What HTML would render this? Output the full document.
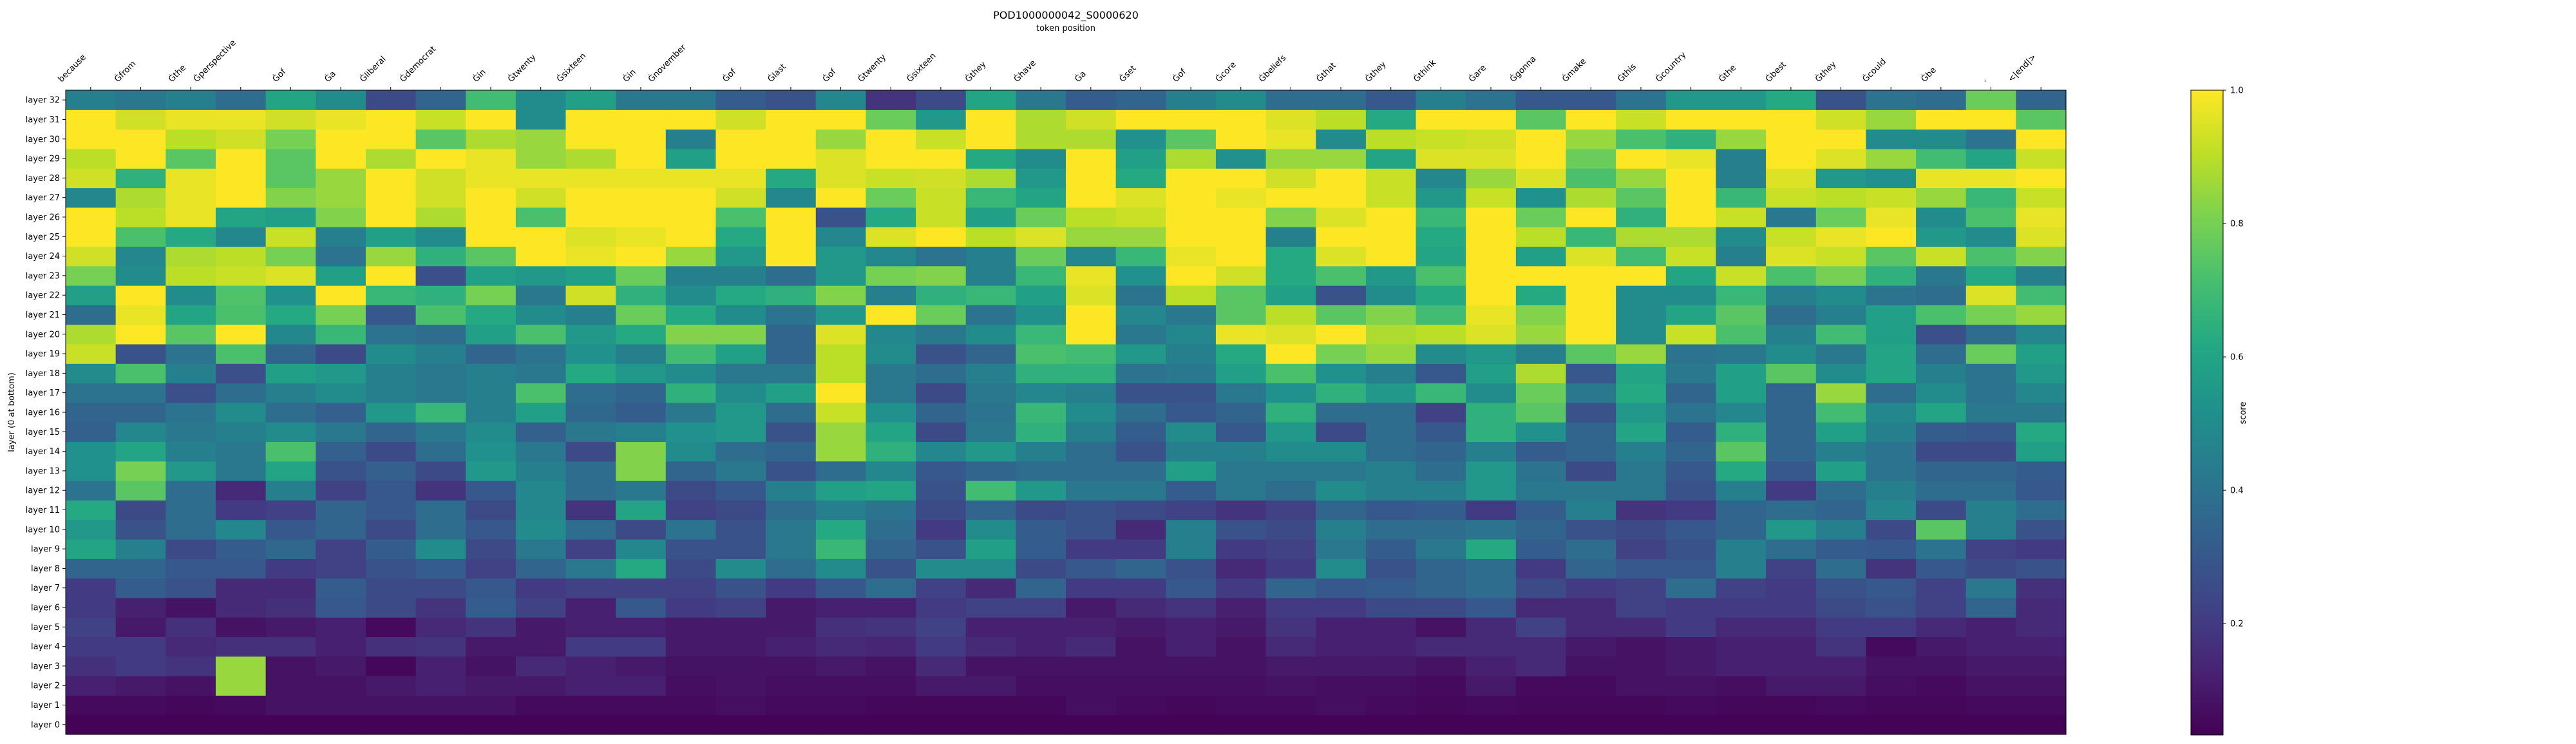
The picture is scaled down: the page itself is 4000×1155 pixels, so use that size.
<!DOCTYPE html>
<html><head><meta charset="utf-8"><title>POD1000000042_S0000620</title>
<style>html,body{margin:0;padding:0;background:#fff}svg{display:block}text{font-family:"DejaVu Sans","Liberation Sans",sans-serif}</style>
</head><body>
<svg id="chart" xmlns="http://www.w3.org/2000/svg" width="4000" height="1155" viewBox="0 0 4000 1155">
<rect width="4000" height="1155" fill="#fff"/>
<text x="1655" y="29" font-size="16" text-anchor="middle" fill="#000">POD1000000042_S0000620</text>
<text x="1655" y="48" font-size="13" text-anchor="middle" fill="#000">token position</text>
<text transform="translate(22,640) rotate(-90)" font-size="13" text-anchor="middle" fill="#000">layer (0 at bottom)</text>
<g id="cells"></g>
<g id="xticks"></g>
<g id="yticks"></g>
<rect x="102" y="140" width="3106" height="1000" fill="none" stroke="#000" stroke-width="1"/>
<defs><linearGradient id="vg" x1="0" y1="1" x2="0" y2="0"></linearGradient></defs>
<rect id="cbar" x="3402" y="140" width="50" height="1001" fill="url(#vg)" stroke="#000" stroke-width="1"/>
<g id="cticks"></g>
<text transform="translate(3487,641) rotate(-90)" font-size="13" text-anchor="middle" fill="#000">score</text>
</svg>
<script>
const tokens = ["because","Ġfrom","Ġthe","Ġperspective","Ġof","Ġa","Ġliberal","Ġdemocrat","Ġin","Ġtwenty","Ġsixteen","Ġin","Ġnovember","Ġof","Ġlast","Ġof","Ġtwenty","Ġsixteen","Ġthey","Ġhave","Ġa","Ġset","Ġof","Ġcore","Ġbeliefs","Ġthat","Ġthey","Ġthink","Ġare","Ġgonna","Ġmake","Ġthis","Ġcountry","Ġthe","Ġbest","Ġthey","Ġcould","Ġbe",".","<|end|>"];
const cbarTicks = [0.2,0.4,0.6,0.8,1.0];
const L32=[0.45,0.42,0.45,0.38,0.6,0.5,0.25,0.35,0.7,0.5,0.58,0.42,0.42, 0.32,0.28,0.48,0.18,0.25,0.6,0.42,0.32,0.35,0.45,0.5,0.38,0.38, 0.3,0.45,0.4,0.3,0.3,0.4,0.55,0.55,0.62,0.28,0.4,0.38,0.78,0.35];
const L31=[1.0,0.93,0.97,0.97,0.93,0.97,1.0,0.92,1.0,0.5,1.0,1.0,1.0, 0.93,1.0,1.0,0.78,0.55,1.0,0.88,0.93,1.0,1.0,1.0,0.95,0.9, 0.62,1.0,1.0,0.75,1.0,0.92,1.0,1.0,1.0,0.93,0.85,1.0,1.0,0.75];
const L30=[1.0,1.0,0.9,0.93,0.8,1.0,1.0,0.75,0.88,0.85,1.0,1.0,0.45, 1.0,1.0,0.85,1.0,0.92,1.0,0.88,0.88,0.52,0.75,1.0,0.97,0.5, 0.9,0.92,0.93,1.0,0.85,0.72,0.65,0.85,1.0,1.0,0.5,0.5,0.4,1.0];
const L29=[0.9,1.0,0.75,1.0,0.75,1.0,0.88,1.0,0.97,0.85,0.88,1.0,0.58, 1.0,1.0,0.95,1.0,1.0,0.62,0.5,1.0,0.58,0.88,0.52,0.85,0.85, 0.6,0.95,0.95,1.0,0.78,1.0,0.97,0.45,1.0,0.95,0.85,0.7,0.6,0.92];
const L28=[0.93,0.65,0.97,1.0,0.75,0.85,1.0,0.93,0.97,0.97,0.97,0.97,0.97, 0.97,0.62,0.95,0.92,0.93,0.88,0.55,1.0,0.62,1.0,1.0,0.93,1.0, 0.92,0.48,0.85,0.95,0.72,0.85,1.0,0.45,0.95,0.55,0.52,0.97,0.97,1.0];
const L27=[0.48,0.88,0.97,1.0,0.82,0.85,1.0,0.93,1.0,0.93,1.0,1.0,1.0, 0.93,0.48,1.0,0.78,0.92,0.68,0.6,1.0,0.95,1.0,0.97,1.0,1.0, 0.92,0.55,0.92,0.52,0.88,0.75,1.0,0.68,0.92,0.9,0.92,0.85,0.68,0.92];
const L26=[1.0,0.9,0.97,0.6,0.58,0.82,1.0,0.88,1.0,0.72,1.0,1.0,1.0, 0.72,1.0,0.28,0.62,0.92,0.58,0.78,0.9,0.92,1.0,1.0,0.82,0.95, 1.0,0.68,1.0,0.78,1.0,0.65,1.0,0.92,0.42,0.78,0.97,0.5,0.72,0.97];
const L25=[1.0,0.72,0.62,0.48,0.92,0.45,0.58,0.5,1.0,1.0,0.95,0.97,1.0, 0.62,1.0,0.48,0.95,1.0,0.9,0.95,0.85,0.85,1.0,1.0,0.45,1.0, 1.0,0.62,1.0,0.9,0.68,0.88,0.88,0.5,0.92,0.97,1.0,0.55,0.5,0.95];
const L24=[0.93,0.48,0.88,0.9,0.8,0.4,0.85,0.65,0.75,1.0,0.97,1.0,0.85, 0.55,1.0,0.55,0.48,0.4,0.45,0.78,0.48,0.68,0.97,1.0,0.62,0.95, 1.0,0.6,1.0,0.58,0.95,0.7,0.92,0.45,0.95,0.92,0.75,0.92,0.72,0.82];
const L23=[0.8,0.5,0.9,0.92,0.95,0.58,1.0,0.27,0.58,0.55,0.58,0.78,0.45, 0.45,0.38,0.55,0.8,0.82,0.45,0.68,0.97,0.52,1.0,0.93,0.62,0.72, 0.55,0.72,1.0,1.0,1.0,1.0,0.6,0.92,0.72,0.8,0.65,0.42,0.62,0.45];
const L22=[0.58,1.0,0.5,0.73,0.52,1.0,0.68,0.65,0.8,0.42,0.93,0.65,0.5, 0.62,0.65,0.82,0.45,0.65,0.68,0.58,0.95,0.4,0.9,0.75,0.58,0.28, 0.5,0.62,1.0,0.62,1.0,0.5,0.5,0.68,0.45,0.5,0.4,0.38,0.95,0.7];
const L21=[0.38,0.97,0.6,0.72,0.62,0.8,0.3,0.72,0.62,0.5,0.45,0.78,0.62, 0.5,0.4,0.55,1.0,0.78,0.4,0.52,1.0,0.48,0.42,0.75,0.9,0.75, 0.82,0.7,0.97,0.82,1.0,0.5,0.6,0.75,0.38,0.45,0.58,0.72,0.8,0.85];
const L20=[0.88,1.0,0.75,1.0,0.48,0.68,0.4,0.38,0.58,0.72,0.55,0.62,0.82, 0.82,0.35,0.95,0.48,0.42,0.5,0.68,1.0,0.42,0.48,0.97,0.95,1.0, 0.88,0.9,0.95,0.85,1.0,0.5,0.92,0.72,0.45,0.7,0.58,0.27,0.38,0.48];
const L19=[0.92,0.28,0.4,0.72,0.35,0.25,0.5,0.45,0.35,0.4,0.52,0.45,0.7, 0.58,0.35,0.9,0.5,0.28,0.35,0.72,0.7,0.55,0.45,0.62,1.0,0.8, 0.85,0.5,0.55,0.45,0.75,0.85,0.4,0.42,0.5,0.42,0.6,0.38,0.78,0.58];
const L18=[0.5,0.72,0.45,0.27,0.58,0.55,0.45,0.42,0.45,0.42,0.62,0.55,0.5, 0.42,0.42,0.9,0.42,0.38,0.45,0.65,0.65,0.4,0.42,0.58,0.72,0.52, 0.45,0.3,0.58,0.88,0.3,0.6,0.42,0.58,0.75,0.5,0.6,0.45,0.4,0.55];
const L17=[0.4,0.4,0.27,0.38,0.45,0.5,0.45,0.42,0.45,0.72,0.38,0.35,0.65, 0.5,0.58,1.0,0.42,0.25,0.42,0.48,0.45,0.28,0.28,0.42,0.52,0.65, 0.55,0.68,0.5,0.78,0.42,0.62,0.35,0.58,0.35,0.85,0.38,0.5,0.4,0.48];
const L16=[0.35,0.35,0.4,0.5,0.38,0.33,0.55,0.68,0.45,0.58,0.36,0.32,0.42, 0.55,0.38,0.92,0.52,0.35,0.4,0.68,0.5,0.38,0.3,0.35,0.65,0.38, 0.38,0.22,0.65,0.75,0.28,0.55,0.4,0.48,0.35,0.7,0.48,0.6,0.42,0.42];
const L15=[0.33,0.48,0.42,0.45,0.5,0.42,0.35,0.42,0.5,0.33,0.42,0.45,0.52, 0.55,0.28,0.85,0.6,0.25,0.42,0.65,0.45,0.32,0.5,0.3,0.55,0.25, 0.38,0.3,0.65,0.52,0.35,0.6,0.32,0.65,0.35,0.58,0.45,0.32,0.3,0.62];
const L14=[0.52,0.6,0.45,0.42,0.72,0.33,0.25,0.38,0.52,0.42,0.25,0.82,0.5, 0.38,0.35,0.85,0.65,0.48,0.55,0.45,0.38,0.28,0.45,0.45,0.5,0.5, 0.38,0.35,0.45,0.32,0.35,0.45,0.35,0.75,0.35,0.45,0.4,0.25,0.25,0.58];
const L13=[0.52,0.8,0.55,0.42,0.6,0.28,0.33,0.25,0.55,0.45,0.38,0.82,0.35, 0.42,0.28,0.38,0.48,0.3,0.35,0.38,0.38,0.38,0.58,0.42,0.42,0.42, 0.45,0.38,0.55,0.4,0.25,0.42,0.3,0.62,0.3,0.58,0.4,0.35,0.35,0.32];
const L12=[0.4,0.75,0.38,0.15,0.45,0.22,0.3,0.18,0.3,0.48,0.38,0.42,0.25, 0.3,0.45,0.58,0.6,0.28,0.7,0.55,0.42,0.42,0.32,0.42,0.38,0.5, 0.45,0.45,0.55,0.42,0.42,0.42,0.28,0.45,0.2,0.38,0.45,0.38,0.38,0.3];
const L11=[0.62,0.25,0.38,0.2,0.22,0.35,0.3,0.38,0.25,0.48,0.18,0.6,0.22, 0.25,0.38,0.45,0.4,0.25,0.35,0.25,0.28,0.25,0.22,0.18,0.22,0.35, 0.3,0.32,0.2,0.32,0.45,0.18,0.2,0.35,0.38,0.35,0.48,0.25,0.45,0.38];
const L10=[0.55,0.28,0.38,0.48,0.3,0.35,0.25,0.38,0.3,0.5,0.38,0.25,0.4, 0.28,0.42,0.62,0.38,0.2,0.5,0.32,0.28,0.15,0.45,0.28,0.25,0.45, 0.38,0.38,0.4,0.35,0.28,0.25,0.3,0.35,0.55,0.45,0.25,0.75,0.45,0.28];
const L9=[0.6,0.45,0.25,0.32,0.36,0.22,0.32,0.5,0.25,0.42,0.22,0.48,0.28, 0.28,0.42,0.68,0.35,0.28,0.58,0.32,0.2,0.2,0.45,0.2,0.22,0.42, 0.32,0.42,0.62,0.32,0.38,0.22,0.28,0.45,0.38,0.32,0.3,0.4,0.22,0.2];
const L8=[0.35,0.35,0.3,0.3,0.2,0.22,0.28,0.32,0.22,0.35,0.42,0.62,0.25, 0.5,0.38,0.5,0.28,0.5,0.5,0.25,0.3,0.35,0.28,0.15,0.2,0.5, 0.28,0.35,0.38,0.2,0.35,0.3,0.3,0.45,0.22,0.38,0.18,0.3,0.25,0.28];
const L7=[0.2,0.32,0.28,0.15,0.15,0.32,0.25,0.25,0.3,0.2,0.22,0.22,0.22, 0.28,0.2,0.3,0.38,0.22,0.15,0.35,0.2,0.2,0.3,0.2,0.35,0.3, 0.32,0.35,0.38,0.25,0.2,0.22,0.38,0.22,0.2,0.28,0.3,0.22,0.42,0.17];
const L6=[0.2,0.12,0.08,0.15,0.17,0.3,0.25,0.18,0.32,0.22,0.12,0.3,0.2, 0.22,0.1,0.12,0.12,0.2,0.22,0.22,0.1,0.15,0.18,0.12,0.2,0.2, 0.25,0.25,0.3,0.15,0.15,0.22,0.2,0.2,0.2,0.25,0.28,0.22,0.35,0.15];
const L5=[0.22,0.1,0.17,0.08,0.1,0.12,0.06,0.15,0.18,0.1,0.12,0.12,0.1, 0.1,0.1,0.17,0.18,0.22,0.12,0.12,0.12,0.1,0.12,0.1,0.18,0.12, 0.12,0.08,0.15,0.22,0.15,0.15,0.2,0.15,0.15,0.2,0.2,0.15,0.12,0.15];
const L4=[0.2,0.2,0.15,0.17,0.17,0.12,0.17,0.18,0.1,0.1,0.2,0.2,0.1, 0.1,0.12,0.15,0.14,0.2,0.15,0.12,0.15,0.08,0.12,0.08,0.15,0.12, 0.12,0.15,0.15,0.15,0.1,0.08,0.1,0.12,0.12,0.18,0.06,0.1,0.12,0.12];
const L3=[0.17,0.2,0.18,0.85,0.08,0.1,0.05,0.12,0.08,0.15,0.12,0.1,0.08, 0.08,0.08,0.1,0.08,0.15,0.08,0.08,0.08,0.08,0.08,0.08,0.1,0.1, 0.1,0.08,0.12,0.15,0.08,0.08,0.1,0.12,0.12,0.12,0.08,0.08,0.1,0.1];
const L2=[0.12,0.1,0.08,0.85,0.08,0.08,0.1,0.12,0.1,0.1,0.12,0.12,0.07, 0.08,0.07,0.07,0.07,0.1,0.1,0.07,0.07,0.07,0.07,0.07,0.08,0.07, 0.07,0.06,0.1,0.06,0.06,0.08,0.08,0.07,0.1,0.1,0.07,0.06,0.08,0.08];
const L1=[0.06,0.06,0.05,0.06,0.08,0.08,0.08,0.08,0.08,0.06,0.06,0.06,0.06, 0.07,0.06,0.06,0.05,0.05,0.05,0.05,0.07,0.06,0.05,0.06,0.06,0.07, 0.06,0.05,0.06,0.05,0.05,0.05,0.06,0.05,0.05,0.06,0.05,0.05,0.06,0.06];
const L0=[0.04,0.04,0.04,0.04,0.04,0.04,0.04,0.04,0.04,0.04,0.04,0.04,0.04, 0.04,0.04,0.04,0.04,0.04,0.04,0.04,0.04,0.04,0.04,0.04,0.04,0.04, 0.04,0.04,0.04,0.04,0.04,0.04,0.04,0.04,0.04,0.04,0.04,0.04,0.04,0.04];
const layerRows = [L0,L1,L2,L3,L4,L5,L6,L7,L8,L9,L10,L11,L12,L13,L14,L15,L16,L17,L18,L19,L20,L21,L22,L23,L24,L25,L26,L27,L28,L29,L30,L31,L32];

const NS="http://www.w3.org/2000/svg";
const VMIN=0.033, VMAX=1.0;
const PX0=102, PX1=3208, PY0=140, PY1=1140;
const nCols=tokens.length, nRows=layerRows.length;
const cw=(PX1-PX0)/nCols, rh=(PY1-PY0)/nRows;
const xOf=i=>PX0+i*cw;
const yOf=layer=>PY0+(nRows-1-layer)*rh;
const vir=[[68,1,84],[72,35,116],[64,67,135],[52,94,141],[41,120,142],[32,144,140],[34,167,132],[68,190,112],[121,209,81],[189,222,38],[253,231,37]];
function viridis(t){t=Math.max(0,Math.min(1,t));const p=t*(vir.length-1);const i=Math.min(vir.length-2,Math.floor(p));const f=p-i;const a=vir[i],b=vir[i+1];
return `rgb(${Math.round(a[0]+(b[0]-a[0])*f)},${Math.round(a[1]+(b[1]-a[1])*f)},${Math.round(a[2]+(b[2]-a[2])*f)})`;}
const norm=v=>(v-VMIN)/(VMAX-VMIN);
function mk(tag,attrs,parent){const e=document.createElementNS(NS,tag);for(const k in attrs)e.setAttribute(k,attrs[k]);parent.appendChild(e);return e;}

const cells=document.getElementById('cells');
layerRows.forEach((row,layer)=>{row.forEach((v,c)=>{
  const r=mk('rect',{x:xOf(c).toFixed(2),y:yOf(layer).toFixed(2),width:(cw+0.6).toFixed(2),height:(rh+0.6).toFixed(2),fill:viridis(norm(v))},cells);
  
  
});});

const xt=document.getElementById('xticks');
tokens.forEach((tk,i)=>{
  const cx=xOf(i)+cw/2;
  const l=mk('line',{x1:cx,y1:135,x2:cx,y2:140,stroke:'#000','stroke-width':1},xt);
  
  
  const t=mk('text',{'font-size':13,'text-anchor':'start',fill:'#000'},xt);
  t.textContent=tk;
  
  
  const w=t.getComputedTextLength();
  const d=w*0.7071;
  const sx=cx-4-d-3, sy=128;
  t.setAttribute('transform',`translate(${sx.toFixed(1)},${sy}) rotate(-45)`);
});

const yt=document.getElementById('yticks');
for(let layer=0;layer<nRows;layer++){
  const cy=yOf(layer)+rh/2;
  const l=mk('line',{x1:97,y1:cy,x2:102,y2:cy,stroke:'#000','stroke-width':1},yt);
  
  
  const t=mk('text',{x:93,y:cy+4.5,'font-size':13,'text-anchor':'end',fill:'#000'},yt);
  t.textContent='layer '+layer;
  
  
}

const g=document.getElementById('vg');
for(let k=0;k<=20;k++){mk('stop',{offset:(k/20),'stop-color':viridis(k/20)},g);}
const ct=document.getElementById('cticks');
const CB0=1141, CB1=140;
const cbY=v=>CB0-(v-VMIN)/(VMAX-VMIN)*(CB0-CB1);
cbarTicks.forEach(v=>{
  const y=cbY(v);
  const l=mk('line',{x1:3452,y1:y,x2:3457,y2:y,stroke:'#000','stroke-width':1},ct);
  
  
  const t=mk('text',{x:3463,y:y+4.5,'font-size':13,fill:'#000'},ct);
  t.textContent=v.toFixed(1);
  
  
});
</script>
</body></html>
